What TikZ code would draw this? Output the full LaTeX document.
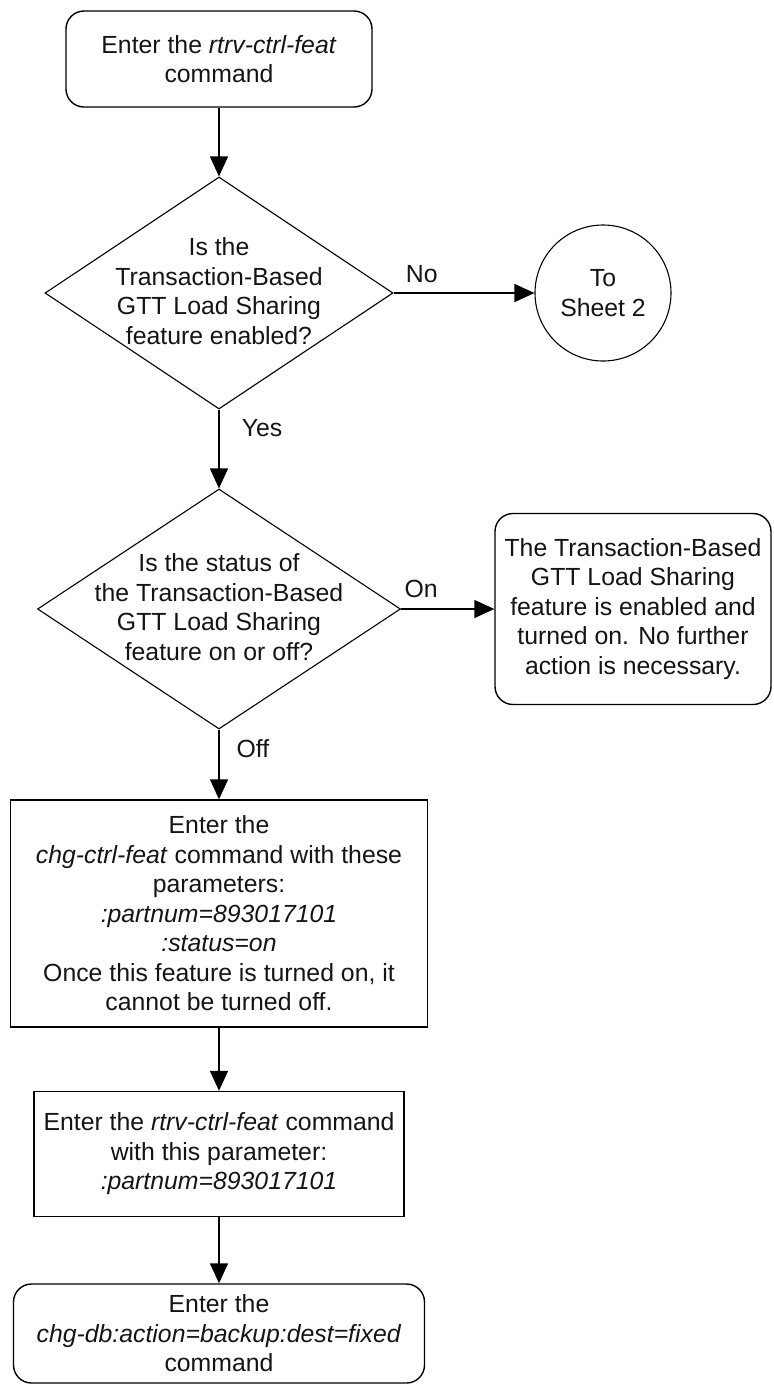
\documentclass[tikz,border=0pt]{standalone}
\usepackage{fontspec}
\setmainfont{Liberation Sans}
\usetikzlibrary{shapes.geometric,arrows.meta}
\begin{document}
\begin{tikzpicture}[x=1pt,y=-1pt,
  every node/.style={font=\fontsize{24.8}{29.5}\selectfont, text=black!92, align=center, inner sep=0pt},
  flowline/.style={line width=1.4pt, -{Triangle[length=20pt,width=18pt]}},
  rbox/.style={draw, line width=1.4pt, rounded corners=18pt},
  sbox/.style={draw, line width=1.4pt},
  dia/.style={draw, diamond, line width=1.1pt},
  endcircle/.style={draw, circle, line width=1.1pt, minimum size=136pt},
  lbl/.style={anchor=center}
]
\useasboundingbox (0,0) rectangle (774,1385);

\node[rbox, minimum width=306pt, minimum height=96pt] (start) at (219,59)
  {Enter the \textit{rtrv-ctrl-feat}\\command};

\node[dia, minimum width=348pt, minimum height=232pt] (d1) at (219,293) {};
\node (d1t) at (219,291) {Is the\\Transaction-Based\\GTT Load Sharing\\feature enabled?};

\node[endcircle] (sheet) at (603,293) {To\\Sheet 2};

\node[dia, minimum width=363pt, minimum height=240pt] (d2) at (219,609) {};
\node (d2t) at (219,607) {Is the status of\\the Transaction-Based\\GTT Load Sharing\\feature on or off?};

\node[rbox, minimum width=276pt, minimum height=191pt] (done) at (633,609)
  {The Transaction-Based\\GTT Load Sharing\\feature is enabled and\\turned on. No further\\action is necessary.};

\node[sbox, minimum width=417pt, minimum height=227pt] (chg) at (219,913.5)
  {Enter the\\\textit{chg-ctrl-feat} command with these\\parameters:\\\textit{:partnum=893017101}\\\textit{:status=on}\\Once this feature is turned on, it\\cannot be turned off.};

\node[sbox, minimum width=370pt, minimum height=125pt] (rtrv) at (219,1154)
  {Enter the \textit{rtrv-ctrl-feat} command\\with this parameter:\\\textit{:partnum=893017101}};

\node[rbox, minimum width=411pt, minimum height=99pt] (term) at (219,1333.5)
  {Enter the\\\textit{chg-db:action=backup:dest=fixed}\\command};

\draw[flowline] (start) -- (d1);
\draw[flowline] (d1.east) -- node[lbl, pos=0.2, yshift=19pt] {No} (sheet.west);
\draw[flowline] (d1.south) -- node[lbl, pos=0.24, xshift=43pt] {Yes} (d2.north);
\draw[flowline] (d2.east) -- node[lbl, pos=0.215, yshift=20pt] {On} (done.west);
\draw[flowline] (d2.south) -- node[lbl, pos=0.27, xshift=34pt] {Off} (chg.north);
\draw[flowline] (chg) -- (rtrv);
\draw[flowline] (rtrv) -- (term);
\end{tikzpicture}
\end{document}
